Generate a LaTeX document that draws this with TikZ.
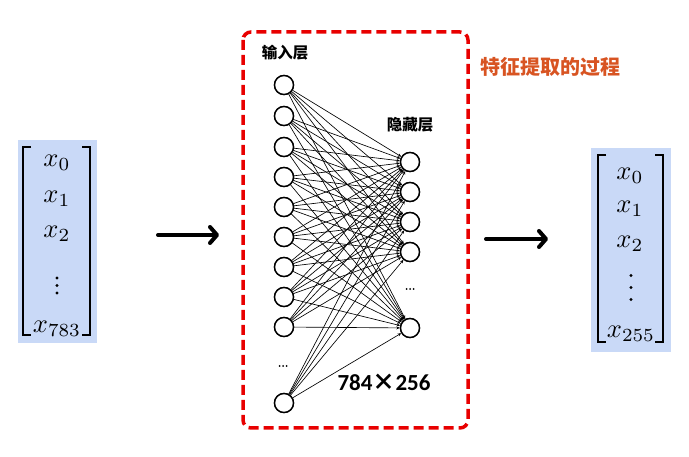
\documentclass[tikz,border=0pt]{standalone}
\usepackage{fontspec}
\usepackage{graphicx}
\newfontfamily\cjk{Noto Sans CJK SC}
\newfontfamily\digitfont{Carlito}
\usetikzlibrary{arrows.meta}
\definecolor{vecblue}{RGB}{201,217,247}
\definecolor{boxred}{RGB}{232,0,0}
\definecolor{titleorange}{RGB}{216,84,34}
\newcommand{\bigmath}[1]{\scalebox{2.65}{$#1$}}
\tikzset{
  neuron/.style={circle,draw=black,line width=1.4pt,fill=white,minimum size=19pt,inner sep=0pt},
  edge/.style={line width=0.65pt,draw=black,-{Stealth[length=3.5pt,width=3pt]}},
  bigarrow/.style={line width=4pt,line cap=round,-{Straight Barb[length=7pt,width=16pt,line width=4pt,round]}},
  bracketline/.style={line width=2pt},
  entry/.style={inner sep=0pt,anchor=base},
  cjklabel/.style={font=\cjk\bfseries\fontsize{15.5}{18}\selectfont,inner sep=0pt},
  vdot/.style={circle,fill=black,inner sep=0pt,minimum size=3.2pt},
  smalldot/.style={circle,fill=black,inner sep=0pt,minimum size=2pt}
}
\begin{document}
\begin{tikzpicture}[x=1pt,y=-1pt]
\useasboundingbox (0,0) rectangle (689,457);
\fill[white] (0,0) rectangle (689,457);

% ---------- left vector ----------
\fill[vecblue] (18,140) rectangle (97,343);
\draw[bracketline] (31,147) -- (23,147) -- (23,335) -- (31,335);
\draw[bracketline] (82,147) -- (90,147) -- (90,335) -- (82,335);
\node[entry] (lx0) at (57,167) {\bigmath{x_0}};
\node[entry] (lx1) at (57,203) {\bigmath{x_1}};
\node[entry] (lx2) at (57,238) {\bigmath{x_2}};
\node[vdot] (ld1) at (57,278) {};
\node[vdot] (ld2) at (57,285.5) {};
\node[vdot] (ld3) at (57,293) {};
\node[entry] (lx783) at (57,333) {\bigmath{x_{783}}};

% ---------- right vector ----------
\fill[vecblue] (591,148) rectangle (671,352);
\draw[bracketline] (606,155) -- (598,155) -- (598,342) -- (606,342);
\draw[bracketline] (655,155) -- (663,155) -- (663,342) -- (655,342);
\node[entry] (rx0) at (630,180) {\bigmath{x_0}};
\node[entry] (rx1) at (630,213) {\bigmath{x_1}};
\node[entry] (rx2) at (630,248) {\bigmath{x_2}};
\node[vdot] (rd1) at (631,275.5) {};
\node[vdot] (rd2) at (631,287.5) {};
\node[vdot] (rd3) at (631,299.5) {};
\node[entry] (rx255) at (631,338) {\bigmath{x_{255}}};

% ---------- arrows ----------
\coordinate (a1s) at (158,235);
\coordinate (a1e) at (219,235);
\coordinate (a2s) at (486,239);
\coordinate (a2e) at (548,239);
\draw[bigarrow] (a1s) -- (a1e);
\draw[bigarrow] (a2s) -- (a2e);

% ---------- red dashed frame ----------
\draw[boxred,line width=3.5pt,dash pattern=on 10pt off 5pt,rounded corners=8pt]
  (243,32) rectangle (468,428);

% ---------- network ----------
\foreach \i/\y in {1/85,2/116,3/147,4/177,5/207,6/237,7/267,8/297,9/327,10/403}
  \node[neuron] (in\i) at (284,\y) {};
\foreach \j/\y in {1/162,2/192,3/222,4/252,5/328}
  \node[neuron] (hd\j) at (410,\y) {};
\foreach \i in {1,...,10}
  \foreach \j in {1,...,5}
    \draw[edge] (in\i) -- (hd\j);
% redraw circles on top
\foreach \i/\y in {1/85,2/116,3/147,4/177,5/207,6/237,7/267,8/297,9/327,10/403}
  \node[neuron] at (284,\y) {};
\foreach \j/\y in {1/162,2/192,3/222,4/252,5/328}
  \node[neuron] at (410,\y) {};

% ellipsis dots
\foreach \k/\dx in {a/-3.5,b/0,c/3.5}{
  \node[smalldot] (ie\k) at (283+\dx,366) {};
  \node[smalldot] (he\k) at (410+\dx,289) {};
}

% ---------- labels ----------
\node[cjklabel] (lin) at (285,53) {输入层};
\node[cjklabel] (lhid) at (410,125) {隐藏层};
\node[font=\bfseries\fontsize{23}{27}\selectfont,inner sep=0pt] (dim) at (384,382) {{\digitfont 784}{\cjk ×}{\digitfont 256}};
\node[font=\cjk\bfseries\fontsize{20}{24}\selectfont,text=titleorange,inner sep=0pt] (title) at (550,67) {特征提取的过程};
\end{tikzpicture}
\end{document}
